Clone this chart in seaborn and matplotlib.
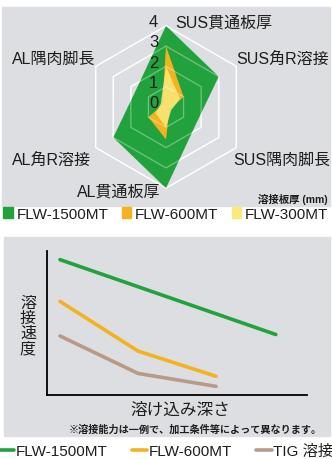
# %% ---- Requirements and constants ------------------------
import numpy as np
import pandas as pd
import seaborn as sns
import matplotlib.pyplot as plt
from matplotlib.patches import Rectangle, Patch
from matplotlib.lines import Line2D

# radar chart data (welding thickness, mm)
radar_axes = ['SUS貫通板厚', 'SUS角R溶接', 'SUS隅肉脚長',
              'AL貫通板厚', 'AL角R溶接', 'AL隅肉脚長']
flw1500 = [4, 3, 1.7, 4, 3, 1.7]
flw600 = [3, 1, 0.2, 1.6, 1, 0.2]
flw300 = [2, 0.8, 0.3, 1, 0.6, 0.3]
r_ticks = [0, 1, 2, 3, 4]

# line chart data (penetration depth vs. welding speed, schematic)
depth_1500 = [0.5, 8.8]
speed_1500 = [9.4, 4.2]
depth_600 = [0.5, 3.5, 6.5]
speed_600 = [6.5, 3.05, 1.3]
depth_tig = [0.5, 3.5, 6.5]
speed_tig = [4.1, 1.5, 0.6]

GREEN = '#22A23C'
ORANGE = '#F3B21E'
YELLOW = '#FAE97E'
TAN = '#B89A86'
GREY_BG = '#DCDEE1'
TXT = '#1E1E1E'

W, H = 332, 460


def fx(x):
    return x / W


def fy(y):
    return 1 - y / H


# %% ---- Figure ------------------------
sns.set_theme(style='white')
plt.rcParams['font.family'] = ['Liberation Sans', 'Noto Sans CJK JP']

fig = plt.figure(figsize=(W / 100, H / 100), dpi=100)
fig.patch.set_facecolor('white')

# grey panels
fig.add_artist(Rectangle((fx(2), fy(207)), fx(328), 199 / H,
                         transform=fig.transFigure, color=GREY_BG, zorder=0))
fig.add_artist(Rectangle((fx(4), fy(437)), fx(326), 199 / H,
                         transform=fig.transFigure, color=GREY_BG, zorder=0))

# ---- radar ----
R = 4.3
ppu = 20.3
cx, cy = 166, 108
rad = R * ppu
ax = fig.add_axes([fx(cx - rad), fy(cy + rad), 2 * rad / W, 2 * rad / H],
                  projection='polar')
ax.set_theta_offset(np.pi / 2)
ax.set_theta_direction(-1)
ax.set_ylim(0, R)
ax.set_facecolor('none')
ax.grid(False)
ax.set_xticks([])
ax.set_yticks([])
ax.spines['polar'].set_visible(False)

theta = np.linspace(0, 2 * np.pi, len(radar_axes), endpoint=False)
theta_c = np.append(theta, theta[0])

for r in r_ticks[1:]:
    ax.plot(theta_c, [r] * len(theta_c), color='white', lw=1.0, zorder=1)

for vals, col, a in [(flw1500, GREEN, 1.0), (flw600, ORANGE, 1.0),
                     (flw300, YELLOW, 0.85)]:
    v = np.append(vals, vals[0])
    ax.fill(theta_c, v, color=col, alpha=a, lw=0, zorder=2)

for r in r_ticks[1:]:
    ax.plot(theta_c, [r] * len(theta_c), color='white', lw=0.9,
            alpha=0.35, zorder=3)

for r in r_ticks:
    ax.annotate(str(r), (0, r), xytext=(-9, 3), textcoords='offset points',
                ha='center', va='center', fontsize=12, color=TXT, zorder=5)

label_pos = [(175, 23, 'left'), (329, 59, 'right'), (330, 160, 'right'),
             (160, 192, 'right'), (12, 160, 'left'), (12, 59, 'left')]
for name, (x, y, ha) in zip(radar_axes, label_pos):
    fig.text(fx(x), fy(y), name, ha=ha, va='center', fontsize=11.5, color=TXT)
fig.text(fx(328), fy(200), '溶接板厚 (mm)', ha='right', va='center',
         fontsize=7.5, fontweight='bold', color=TXT)

top_handles = [Patch(color=GREEN), Patch(color=ORANGE), Patch(color=YELLOW)]
fig.legend(top_handles, ['FLW-1500MT', 'FLW-600MT', 'FLW-300MT'],
           loc='center', bbox_to_anchor=(0.5, fy(215)), ncol=3, frameon=False,
           fontsize=11, handlelength=0.6, handleheight=0.75,
           handletextpad=0.25, columnspacing=0.9, borderaxespad=0,
           borderpad=0, labelcolor=TXT)

# ---- line chart ----
df = pd.concat([
    pd.DataFrame({'depth': depth_1500, 'speed': speed_1500, 'model': 'FLW-1500MT'}),
    pd.DataFrame({'depth': depth_600, 'speed': speed_600, 'model': 'FLW-600MT'}),
    pd.DataFrame({'depth': depth_tig, 'speed': speed_tig, 'model': 'TIG 溶接'}),
])
palette = {'FLW-1500MT': GREEN, 'FLW-600MT': ORANGE, 'TIG 溶接': TAN}

ax2 = fig.add_axes([fx(47), fy(396), 260 / W, 144 / H])
sns.lineplot(data=df, x='depth', y='speed', hue='model', palette=palette,
             lw=2.6, legend=False, ax=ax2, sort=False)
ax2.set_xlim(0, 10)
ax2.set_ylim(0, 10)
ax2.set_facecolor('none')
ax2.set_xticks([])
ax2.set_yticks([])
ax2.set_xlabel('')
ax2.set_ylabel('')
for s in ['top', 'right']:
    ax2.spines[s].set_visible(False)
for s in ['left', 'bottom']:
    ax2.spines[s].set_color('black')
    ax2.spines[s].set_linewidth(1.3)

fig.text(fx(28), fy(326), '溶\n接\n速\n度', ha='center', va='center',
         fontsize=11.5, linespacing=1.0, color=TXT)
fig.text(fx(180), fy(410), '溶け込み深さ', ha='center', va='center',
         fontsize=12, color=TXT)
fig.text(fx(322), fy(430), '※溶接能力は一例で、加工条件等によって異なります。',
         ha='right', va='center', fontsize=7.3, fontweight='bold', color=TXT)

bot_handles = [Line2D([], [], color=c, lw=2.6) for c in palette.values()]
fig.legend(bot_handles, list(palette.keys()),
           loc='center', bbox_to_anchor=(0.5, fy(452)), ncol=3, frameon=False,
           fontsize=11, handlelength=1.0, handletextpad=0.1,
           columnspacing=1.6, borderaxespad=0, borderpad=0, labelcolor=TXT)

fig.savefig('out.png', dpi=100)
